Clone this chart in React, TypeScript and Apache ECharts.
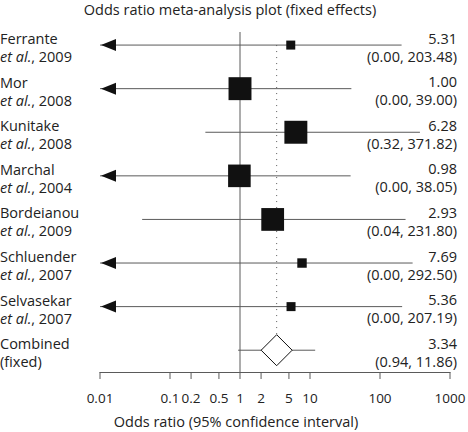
import React, { useEffect, useRef } from "react";
import * as echarts from "echarts";

const studies = ["Ferrante", "Mor", "Kunitake", "Marchal", "Bordeianou", "Schluender", "Selvasekar"];
const years = [2009, 2008, 2008, 2004, 2009, 2007, 2007];
const oddsRatios = [5.31, 1.0, 6.28, 0.98, 2.93, 7.69, 5.36];
const lowerCI = [0.0, 0.0, 0.32, 0.0, 0.04, 0.0, 0.0];
const upperCI = [203.48, 39.0, 371.82, 38.05, 231.8, 292.5, 207.19];
const weights = [1, 6.5, 6.5, 6.3, 6.4, 1.1, 1];
const combinedLabel = ["Combined", "(fixed)"];
const combinedOR = 3.34;
const combinedLower = 0.94;
const combinedUpper = 11.86;
const tickValues = [0.01, 0.1, 0.2, 0.5, 1, 2, 5, 10, 100, 1000];
const tickLabels = ["0.01", "0.1", "0.2", "0.5", "1", "2", "5", "10", "100", "1000"];
const titleText = "Odds ratio meta-analysis plot (fixed effects)";
const xAxisTitle = "Odds ratio (95% confidence interval)";

const FONT = "Open Sans";
const FS = 14.5;
const TEXT = "#222";
const LINE = "#5a5a5a";
const X_MIN = Math.log10(tickValues[0]);
const X_MAX = Math.log10(tickValues[tickValues.length - 1]);
const rows = studies.length + 1;

const fmt2 = (v: number) => v.toFixed(2);

export default function App() {
  const ref = useRef<HTMLDivElement>(null);
  useEffect(() => {
    if (!ref.current) return;
    const chart = echarts.init(ref.current, null, { renderer: "svg" });
    const rowIdx = Array.from({ length: rows }, (_, i) => i);
    const leftLabel = (v: number) => {
      const i = Math.round(v);
      if (i < studies.length) return `{n|${studies[i]}}\n{i|et al.}{n|, ${years[i]}}`;
      return `{n|${combinedLabel[0]}}\n{n|${combinedLabel[1]}}`;
    };
    const rightLabel = (v: number) => {
      const i = Math.round(v);
      if (i < studies.length) return `{n|${fmt2(oddsRatios[i])}}\n{n|(${fmt2(lowerCI[i])}, ${fmt2(upperCI[i])})}`;
      return `{n|${fmt2(combinedOR)}}\n{n|(${fmt2(combinedLower)}, ${fmt2(combinedUpper)})}`;
    };
    const rich = {
      n: { fontFamily: FONT, fontSize: FS, color: TEXT, lineHeight: 18 },
      i: { fontFamily: FONT, fontSize: FS, color: TEXT, lineHeight: 18, fontStyle: "italic" },
    };
    const yBase = {
      type: "value",
      inverse: true,
      min: -0.3,
      max: rows - 0.5,
      axisLine: { show: false },
      axisTick: { show: false },
      splitLine: { show: false },
    };
    const studyData = studies.map((_, i) => [
      Math.log10(oddsRatios[i]),
      i,
      lowerCI[i],
      upperCI[i],
      weights[i],
    ]);
    const tickData = tickValues.map((t) => [Math.log10(t), rows - 0.5]);
    const option: any = {
      animation: false,
      backgroundColor: "#fff",
      title: [
        {
          text: titleText,
          left: 230,
          textAlign: "center",
          top: 2,
          padding: 0,
          textStyle: { fontFamily: FONT, fontSize: FS, fontWeight: "normal", color: TEXT },
        },
        {
          text: xAxisTitle,
          left: 236,
          textAlign: "center",
          top: 414,
          padding: 0,
          textStyle: { fontFamily: FONT, fontSize: FS, fontWeight: "normal", color: TEXT },
        },
      ],
      grid: { left: 100, right: 18, top: 32, bottom: 60, containLabel: false, outerBoundsMode: "none" },
      xAxis: {
        type: "value",
        min: X_MIN,
        max: X_MAX,
        splitLine: { show: false },
        axisLine: { show: true, onZero: false, lineStyle: { color: LINE, width: 1 } },
        axisTick: { show: false },
        axisLabel: {
          margin: 19,
          fontFamily: FONT,
          fontSize: 13.5,
          color: TEXT,
          customValues: tickValues.map((t) => Math.log10(t)),
          formatter: (v: number) => {
            let best = 0;
            tickValues.forEach((t, k) => {
              if (Math.abs(Math.log10(t) - v) < Math.abs(Math.log10(tickValues[best]) - v)) best = k;
            });
            return tickLabels[best];
          },
        },
      },
      yAxis: [
        {
          ...yBase,
          position: "left",
          axisLabel: {
            customValues: rowIdx,
            formatter: leftLabel,
            align: "left",
            margin: 100,
            padding: [5, 0, 0, 0],
            rich,
          },
        },
        {
          ...yBase,
          position: "right",
          axisLabel: {
            customValues: rowIdx,
            formatter: rightLabel,
            align: "right",
            margin: 7,
            padding: [4, 0, 0, 0],
            rich,
          },
        },
      ],
      series: [
        {
          type: "custom",
          silent: true,
          data: [[0, 0]],
          renderItem: (params: any, api: any) => {
            const top = api.coord([0, -0.3]);
            const bottom = api.coord([0, rows - 0.5]);
            return {
              type: "line",
              shape: { x1: top[0], y1: top[1], x2: bottom[0], y2: bottom[1] },
              style: { stroke: LINE, lineWidth: 1 },
            };
          },
        },
        {
          type: "custom",
          silent: true,
          clip: false,
          data: tickData,
          renderItem: (params: any, api: any) => {
            const p = api.coord([api.value(0), api.value(1)]);
            return {
              type: "line",
              shape: { x1: p[0], y1: p[1], x2: p[0], y2: p[1] + 7 },
              style: { stroke: LINE, lineWidth: 1 },
            };
          },
        },
        {
          type: "custom",
          silent: true,
          data: [[Math.log10(combinedOR), studies.length, combinedLower, combinedUpper]],
          renderItem: (params: any, api: any) => {
            const row = api.value(1);
            const c = api.coord([api.value(0), row]);
            const lo = api.coord([Math.log10(api.value(2)), row]);
            const hi = api.coord([Math.log10(api.value(3)), row]);
            const dTop = api.coord([api.value(0), 0]);
            const h = 15.5;
            return {
              type: "group",
              children: [
                {
                  type: "line",
                  shape: { x1: dTop[0], y1: dTop[1], x2: c[0], y2: c[1] - h },
                  style: { stroke: LINE, lineWidth: 1, lineDash: [1, 5] },
                },
                {
                  type: "line",
                  shape: { x1: lo[0], y1: lo[1], x2: hi[0], y2: hi[1] },
                  style: { stroke: LINE, lineWidth: 1 },
                },
                {
                  type: "polygon",
                  shape: {
                    points: [
                      [c[0], c[1] - h],
                      [c[0] + h, c[1]],
                      [c[0], c[1] + h],
                      [c[0] - h, c[1]],
                    ],
                  },
                  style: { fill: "#fff", stroke: "#111", lineWidth: 1 },
                },
              ],
            };
          },
        },
        {
          type: "custom",
          silent: true,
          data: studyData,
          renderItem: (params: any, api: any) => {
            const row = api.value(1);
            const lo = api.value(2);
            const loLog = lo > 0 ? Math.max(Math.log10(lo), X_MIN) : X_MIN;
            const clipped = !(lo > 0) || Math.log10(lo) < X_MIN;
            const p0 = api.coord([loLog, row]);
            const p1 = api.coord([Math.log10(api.value(3)), row]);
            const c = api.coord([api.value(0), row]);
            const side = 9 * Math.sqrt(api.value(4));
            const children: any[] = [
              {
                type: "line",
                shape: { x1: p0[0], y1: p0[1], x2: p1[0], y2: p1[1] },
                style: { stroke: LINE, lineWidth: 1 },
              },
            ];
            if (clipped) {
              children.push({
                type: "polygon",
                shape: {
                  points: [
                    [p0[0] + 1, p0[1]],
                    [p0[0] + 16, p0[1] - 6],
                    [p0[0] + 16, p0[1] + 6],
                  ],
                },
                style: { fill: "#111" },
              });
            }
            children.push({
              type: "rect",
              shape: { x: c[0] - side / 2, y: c[1] - side / 2, width: side, height: side },
              style: { fill: "#111" },
            });
            return { type: "group", children };
          },
        },
      ],
    };
    chart.setOption(option);
    return () => chart.dispose();
  }, []);
  return (
    <div
      ref={ref}
      style={{ position: "absolute", left: 0, top: 0, width: 468, height: 432, background: "#fff" }}
    />
  );
}
